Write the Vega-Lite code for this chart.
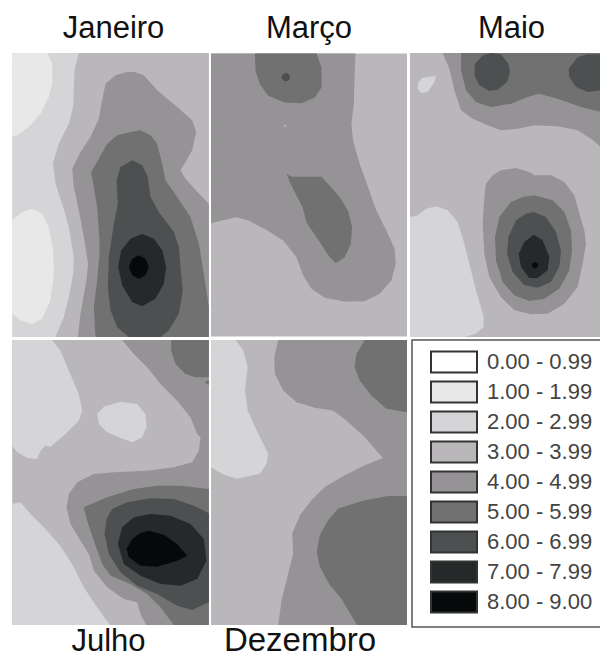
{"$schema":"https://vega.github.io/schema/vega-lite/v6.json","background":"white","padding":{"left":12,"top":13,"right":0,"bottom":0},"spacing":0,
"config":{"font":"Liberation Sans","title":{"font":"Liberation Sans","fontWeight":"normal","color":"#111"},
"legend":{"labelFont":"Liberation Sans"}},
"datasets":{
"jan":[
{"type":"Feature","properties":{"level":"2.00 - 2.99"},"geometry":{"type":"Polygon","coordinates":[[[35,38],[625,38],[625,890],[35,890],[35,38]]]}},
{"type":"Feature","properties":{"level":"1.00 - 1.99"},"geometry":{"type":"Polygon","coordinates":[[[35,38],[140,38],[155,70],[155,130],[145,170],[120,220],[85,260],[50,285],[35,288],[35,38]]]}},
{"type":"Feature","properties":{"level":"1.00 - 1.99"},"geometry":{"type":"Polygon","coordinates":[[[35,540],[65,515],[95,505],[125,520],[145,560],[158,630],[160,700],[150,780],[125,835],[95,852],[60,840],[35,820],[35,540]]]}},
{"type":"Feature","properties":{"level":"3.00 - 3.99"},"geometry":{"type":"Polygon","coordinates":[[[235,38],[625,38],[625,890],[165,890],[190,830],[205,770],[218,700],[220,650],[205,560],[185,490],[165,430],[157,370],[175,310],[205,250],[218,200],[222,90],[235,38]]]}},
{"type":"Feature","properties":{"level":"4.00 - 4.99"},"geometry":{"type":"Polygon","coordinates":[[[402,95],[430,105],[470,150],[530,200],[575,240],[587,275],[575,330],[555,365],[540,390],[555,415],[600,465],[625,490],[625,890],[232,890],[240,820],[258,720],[263,670],[250,590],[235,510],[220,440],[215,385],[240,335],[270,290],[295,235],[305,180],[315,130],[345,105],[380,95],[402,95]]]}},
{"type":"Feature","properties":{"level":"5.00 - 5.99"},"geometry":{"type":"Polygon","coordinates":[[[420,270],[450,285],[470,310],[485,370],[495,420],[530,470],[570,530],[595,610],[610,700],[625,800],[625,890],[285,890],[280,800],[290,720],[297,640],[297,600],[290,500],[280,440],[272,395],[295,355],[320,310],[350,285],[390,275],[420,270]]]}},
{"type":"Feature","properties":{"level":"6.00 - 6.99"},"geometry":{"type":"Polygon","coordinates":[[[395,360],[425,375],[442,410],[450,470],[475,515],[520,575],[535,620],[540,680],[547,750],[535,820],[505,870],[480,890],[385,890],[350,860],[330,810],[322,740],[325,650],[340,550],[352,490],[348,420],[360,380],[395,360]]]}},
{"type":"Feature","properties":{"level":"7.00 - 7.99"},"geometry":{"type":"Polygon","coordinates":[[[425,581],[460,595],[485,630],[497,680],[490,730],[465,775],[425,798],[395,785],[365,735],[353,680],[362,630],[390,595],[425,581]]]}},
{"type":"Feature","properties":{"level":"8.00 - 9.00"},"geometry":{"type":"Polygon","coordinates":[[[415,645],[435,655],[445,680],[435,705],[415,716],[395,705],[385,680],[395,655],[415,645]]]}}
],
"mar":[
{"type":"Feature","properties":{"level":"3.00 - 3.99"},"geometry":{"type":"Polygon","coordinates":[[[18,38],[607,38],[607,888],[18,888],[18,38]]]}},
{"type":"Feature","properties":{"level":"4.00 - 4.99"},"geometry":{"type":"Polygon","coordinates":[[[18,38],[452,38],[450,90],[447,190],[440,250],[445,300],[465,370],[490,440],[515,510],[545,570],[570,625],[573,670],[560,720],[525,760],[480,782],[420,783],[360,772],[320,745],[295,705],[275,650],[235,600],[180,565],[130,540],[95,530],[50,540],[18,548],[18,38]]]}},
{"type":"Feature","properties":{"level":"5.00 - 5.99"},"geometry":{"type":"Polygon","coordinates":[[[150,38],[335,38],[350,80],[350,140],[330,170],[290,187],[240,185],[190,165],[165,130],[152,90],[150,38]]]}},
{"type":"Feature","properties":{"level":"6.00 - 6.99"},"geometry":{"type":"Polygon","coordinates":[[[243,96],[252,100],[256,109],[252,118],[243,122],[234,118],[230,109],[234,100],[243,96]]]}},
{"type":"Feature","properties":{"level":"5.00 - 5.99"},"geometry":{"type":"Polygon","coordinates":[[[245,400],[262,408],[350,408],[370,430],[405,470],[430,510],[442,560],[438,610],[420,650],[393,667],[375,650],[335,590],[305,545],[293,500],[270,455],[255,425],[245,400]]]}},
{"type":"Feature","properties":{"level":"3.00 - 3.99"},"geometry":{"type":"Polygon","coordinates":[[[237,252],[243,252],[243,258],[237,258],[237,252]]]}}
],
"mai":[
{"type":"Feature","properties":{"level":"3.00 - 3.99"},"geometry":{"type":"Polygon","coordinates":[[[27,38],[600,38],[600,890],[27,890],[27,38]]]}},
{"type":"Feature","properties":{"level":"4.00 - 4.99"},"geometry":{"type":"Polygon","coordinates":[[[125,38],[145,85],[160,150],[180,210],[215,235],[260,255],[300,270],[350,265],[400,255],[470,258],[530,270],[570,295],[600,320],[600,38],[125,38]]]}},
{"type":"Feature","properties":{"level":"5.00 - 5.99"},"geometry":{"type":"Polygon","coordinates":[[[180,38],[180,90],[195,150],[225,185],[270,200],[330,190],[380,170],[415,160],[470,175],[540,200],[600,215],[600,38],[180,38]]]}},
{"type":"Feature","properties":{"level":"6.00 - 6.99"},"geometry":{"type":"Polygon","coordinates":[[[245,45],[273,38],[300,42],[322,70],[327,95],[318,125],[290,148],[265,152],[235,135],[220,105],[222,70],[245,45]]]}},
{"type":"Feature","properties":{"level":"6.00 - 6.99"},"geometry":{"type":"Polygon","coordinates":[[[530,50],[560,42],[600,42],[600,150],[560,155],[525,140],[505,110],[503,85],[530,50]]]}},
{"type":"Feature","properties":{"level":"2.00 - 2.99"},"geometry":{"type":"Polygon","coordinates":[[[27,530],[50,525],[75,505],[105,498],[140,510],[170,545],[190,610],[205,670],[225,750],[248,830],[248,860],[225,880],[190,890],[27,890],[27,530]]]}},
{"type":"Feature","properties":{"level":"2.00 - 2.99"},"geometry":{"type":"Polygon","coordinates":[[[52,125],[65,112],[105,107],[100,125],[80,155],[60,158],[50,145],[52,125]]]}},
{"type":"Feature","properties":{"level":"4.00 - 4.99"},"geometry":{"type":"Polygon","coordinates":[[[300,390],[345,383],[385,395],[400,405],[450,405],[490,425],[520,465],[535,520],[550,570],[555,610],[545,670],[530,740],[490,790],[440,820],[390,822],[340,810],[300,770],[265,710],[250,640],[245,550],[250,470],[255,430],[275,405],[300,390]]]}},
{"type":"Feature","properties":{"level":"5.00 - 5.99"},"geometry":{"type":"Polygon","coordinates":[[[400,465],[455,480],[490,515],[510,570],[513,630],[505,690],[475,745],[430,775],[385,782],[340,765],[305,725],[285,660],[282,590],[295,530],[330,485],[365,470],[400,465]]]}},
{"type":"Feature","properties":{"level":"6.00 - 6.99"},"geometry":{"type":"Polygon","coordinates":[[[398,515],[435,530],[465,575],[480,630],[475,680],[450,725],[410,742],[370,735],[335,695],[318,640],[322,590],[345,540],[375,520],[398,515]]]}},
{"type":"Feature","properties":{"level":"7.00 - 7.99"},"geometry":{"type":"Polygon","coordinates":[[[398,583],[425,600],[445,650],[440,690],[410,713],[385,713],[360,680],[353,640],[370,605],[398,583]]]}},
{"type":"Feature","properties":{"level":"8.00 - 9.00"},"geometry":{"type":"Polygon","coordinates":[[[402,666],[409,669],[411,675],[409,681],[402,684],[395,681],[393,675],[395,669],[402,666]]]}}
],
"jul":[
{"type":"Feature","properties":{"level":"3.00 - 3.99"},"geometry":{"type":"Polygon","coordinates":[[[35,28],[625,28],[625,883],[35,883],[35,28]]]}},
{"type":"Feature","properties":{"level":"2.00 - 2.99"},"geometry":{"type":"Polygon","coordinates":[[[35,28],[155,28],[180,60],[205,120],[235,190],[245,240],[235,270],[195,310],[150,348],[135,345],[120,360],[110,385],[80,382],[50,365],[35,345],[35,28]]]}},
{"type":"Feature","properties":{"level":"2.00 - 2.99"},"geometry":{"type":"Polygon","coordinates":[[[290,250],[310,228],[360,213],[410,220],[435,250],[438,290],[425,320],[395,335],[360,322],[320,305],[295,280],[290,250]]]}},
{"type":"Feature","properties":{"level":"2.00 - 2.99"},"geometry":{"type":"Polygon","coordinates":[[[35,520],[60,515],[90,550],[130,590],[175,640],[215,700],[250,770],[290,830],[328,883],[35,883],[35,520]]]}},
{"type":"Feature","properties":{"level":"4.00 - 4.99"},"geometry":{"type":"Polygon","coordinates":[[[365,28],[400,70],[440,110],[480,160],[530,210],[570,260],[590,310],[600,320],[595,360],[575,395],[520,410],[440,420],[340,425],[280,430],[230,455],[205,490],[198,530],[210,580],[240,630],[265,670],[280,720],[320,770],[370,805],[410,815],[420,850],[437,883],[625,883],[625,28],[365,28]]]}},
{"type":"Feature","properties":{"level":"5.00 - 5.99"},"geometry":{"type":"Polygon","coordinates":[[[512,28],[512,60],[525,100],[555,130],[585,140],[625,140],[625,28],[512,28]]]}},
{"type":"Feature","properties":{"level":"5.00 - 5.99"},"geometry":{"type":"Polygon","coordinates":[[[612,155],[625,148],[625,163],[612,155]]]}},
{"type":"Feature","properties":{"level":"5.00 - 5.99"},"geometry":{"type":"Polygon","coordinates":[[[625,475],[540,465],[470,465],[400,475],[320,500],[250,530],[260,570],[280,630],[305,700],[330,735],[390,760],[440,790],[480,830],[520,883],[625,883],[625,475]]]}},
{"type":"Feature","properties":{"level":"6.00 - 6.99"},"geometry":{"type":"Polygon","coordinates":[[[625,548],[580,525],[520,505],[450,503],[380,515],[335,535],[318,565],[312,610],[325,670],[360,725],[410,765],[470,790],[530,825],[575,838],[625,815],[625,548]]]}},
{"type":"Feature","properties":{"level":"7.00 - 7.99"},"geometry":{"type":"Polygon","coordinates":[[[450,550],[510,555],[570,580],[610,625],[618,690],[590,745],[540,765],[480,760],[420,735],[370,700],[352,640],[365,590],[400,560],[450,550]]]}},
{"type":"Feature","properties":{"level":"8.00 - 9.00"},"geometry":{"type":"Polygon","coordinates":[[[445,600],[490,612],[530,640],[560,675],[530,690],[470,708],[420,705],[385,680],[378,655],[395,625],[420,607],[445,600]]]}}
],
"dez":[
{"type":"Feature","properties":{"level":"3.00 - 3.99"},"geometry":{"type":"Polygon","coordinates":[[[18,28],[607,28],[607,885],[18,885],[18,28]]]}},
{"type":"Feature","properties":{"level":"2.00 - 2.99"},"geometry":{"type":"Polygon","coordinates":[[[18,28],[92,28],[115,60],[128,110],[120,180],[128,240],[155,300],[190,370],[185,400],[165,430],[130,438],[95,445],[50,430],[18,410],[18,28]]]}},
{"type":"Feature","properties":{"level":"4.00 - 4.99"},"geometry":{"type":"Polygon","coordinates":[[[220,28],[208,80],[210,130],[235,180],[275,215],[330,232],[385,240],[425,270],[480,320],[515,360],[535,383],[480,405],[420,435],[360,470],[320,510],[285,555],[262,610],[265,670],[250,730],[230,810],[220,885],[607,885],[607,28],[220,28]]]}},
{"type":"Feature","properties":{"level":"5.00 - 5.99"},"geometry":{"type":"Polygon","coordinates":[[[480,28],[455,70],[450,110],[465,150],[500,195],[545,235],[607,245],[607,28],[480,28]]]}},
{"type":"Feature","properties":{"level":"5.00 - 5.99"},"geometry":{"type":"Polygon","coordinates":[[[607,497],[550,497],[480,510],[400,535],[370,570],[345,615],[336,665],[345,710],[375,765],[410,805],[430,840],[457,885],[607,885],[607,497]]]}}
],
"leg":[{"type":"Feature","properties":{},"geometry":{"type":"Polygon","coordinates":[[[0,0],[573,0],[573,861],[0,861],[0,0]]]}}]
},
"vconcat":[
{"spacing":2,"hconcat":[
{"width":197,"height":284,"projection":{"type":"identity"},"title":{"text":"Janeiro","fontSize":31,"dx":3,"offset":8},"data":{"name":"jan"},"mark":{"type":"geoshape","strokeWidth":0},
"encoding":{"color":{"field":"properties.level","type":"nominal","legend":{"title":null,"orient":"none","legendX":418,"legendY":294,"symbolType":"M-1,-0.46H1V0.46H-1Z","symbolSize":2116,"symbolStrokeColor":"#333","symbolStrokeWidth":2,"labelFontSize":22,"labelColor":"#444","clipHeight":30,"rowPadding":0,"labelOffset":9},"scale":{"domain":["0.00 - 0.99","1.00 - 1.99","2.00 - 2.99","3.00 - 3.99","4.00 - 4.99","5.00 - 5.99","6.00 - 6.99","7.00 - 7.99","8.00 - 9.00"],"range":["#ffffff","#e8e8e9","#d5d4d6","#b9b7b9","#959395","#717172","#4d5051","#262929","#060909"]}}}},
{"width":196,"height":284,"projection":{"type":"identity"},"title":{"text":"Março","fontSize":31,"offset":8},"data":{"name":"mar"},"mark":{"type":"geoshape","strokeWidth":0},"encoding":{"color":{"field":"properties.level","type":"nominal"}}},
{"width":191,"height":284,"projection":{"type":"identity"},"title":{"text":"Maio","fontSize":31,"dx":6,"offset":8},"data":{"name":"mai"},"mark":{"type":"geoshape","strokeWidth":0},"encoding":{"color":{"field":"properties.level","type":"nominal"}}}
]},
{"spacing":2,"hconcat":[
{"width":197,"height":285,"projection":{"type":"identity"},"title":{"text":"Julho","fontSize":31,"orient":"bottom","dx":-2,"offset":2},"data":{"name":"jul"},"mark":{"type":"geoshape","strokeWidth":0},"encoding":{"color":{"field":"properties.level","type":"nominal"}}},
{"width":196,"height":285,"projection":{"type":"identity"},"title":{"text":"Dezembro","fontSize":33,"orient":"bottom","dx":-9,"offset":0},"data":{"name":"dez"},"mark":{"type":"geoshape","strokeWidth":0},"encoding":{"color":{"field":"properties.level","type":"nominal"}}},
{"width":191,"height":287,"projection":{"type":"identity"},"data":{"name":"leg"},"mark":{"type":"geoshape","fill":"#ffffff","stroke":"#555555","strokeWidth":1.5},"encoding":{}}
]}
]}
